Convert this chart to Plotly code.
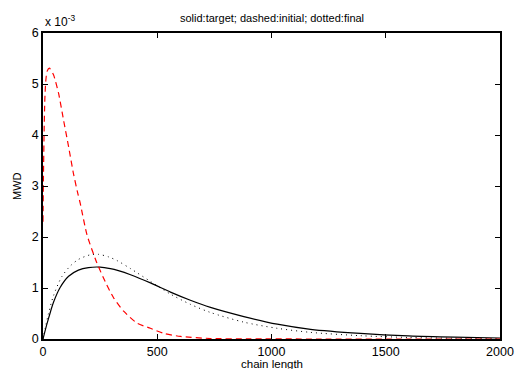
import plotly.graph_objects as go

# values in units of 1e-3
initial_x = [0, 2, 5, 8, 12, 18, 28, 46, 68, 90, 112, 133, 152, 163, 192, 235, 279, 310, 354, 412, 470, 529, 602, 733, 900, 1200, 1600, 2000]
initial_y = [2.3, 3.2, 4.1, 4.7, 5.05, 5.25, 5.31, 5.18, 4.82, 4.29, 3.77, 3.25, 2.86, 2.66, 2.05, 1.50, 1.06, 0.80, 0.54, 0.31, 0.21, 0.11, 0.05, 0.01, 0.003, 0, 0, 0]

target_x = [0, 12, 24, 46, 75, 112, 155, 199, 250, 295, 330, 383, 470, 558, 645, 733, 879, 1025, 1171, 1389, 1600, 1800, 2000]
target_y = [0, 0.21, 0.40, 0.72, 1.01, 1.23, 1.35, 1.40, 1.41, 1.38, 1.34, 1.26, 1.10, 0.92, 0.76, 0.62, 0.44, 0.29, 0.19, 0.11, 0.06, 0.035, 0.02]

final_x = [0, 10, 24, 46, 82, 119, 155, 206, 243, 287, 323, 383, 470, 558, 645, 733, 879, 1025, 1171, 1389, 1600, 1800, 2000]
final_y = [0, 0.22, 0.50, 0.85, 1.22, 1.43, 1.56, 1.65, 1.66, 1.61, 1.54, 1.38, 1.13, 0.88, 0.68, 0.52, 0.33, 0.21, 0.13, 0.065, 0.03, 0.015, 0.008]

x_ticks = [0, 500, 1000, 1500, 2000]
y_ticks = [0, 1, 2, 3, 4, 5, 6]

fig = go.Figure()
fig.add_trace(go.Scatter(x=target_x, y=target_y, mode="lines",
                         line=dict(color="black", width=1.2, shape="spline", smoothing=0.8)))
fig.add_trace(go.Scatter(x=final_x, y=final_y, mode="lines",
                         line=dict(color="black", width=1, dash="1px,4px", shape="spline", smoothing=0.8)))
fig.add_trace(go.Scatter(x=initial_x, y=initial_y, mode="lines",
                         line=dict(color="red", width=1.2, dash="6px,4px", shape="spline", smoothing=0.6)))

font = "Liberation Sans, Arial, Helvetica, sans-serif"
axis_common = dict(showgrid=False, zeroline=False, showline=True, linecolor="black",
                   linewidth=1.5, mirror="ticks", ticks="inside", ticklen=5, automargin=False,
                   tickcolor="black", tickfont=dict(family=font, size=12.5, color="black"))

fig.update_layout(
    width=515, height=369,
    margin=dict(l=43, r=15, t=33, b=30),
    paper_bgcolor="white", plot_bgcolor="white",
    showlegend=False,
    xaxis=dict(range=[0, 2000], tickvals=x_ticks, **axis_common),
    yaxis=dict(range=[0, 6], tickvals=y_ticks, **axis_common),
    annotations=[
        dict(text="solid:target; dashed:initial; dotted:final", x=0.5, y=1, xref="paper", yref="paper",
             xanchor="center", yanchor="bottom", yshift=7, showarrow=False,
             font=dict(family=font, size=11, color="black")),
        dict(text="x 10<sup>-3</sup>", x=0, y=1, xref="paper", yref="paper",
             xanchor="left", yanchor="bottom", yshift=2, showarrow=False,
             font=dict(family=font, size=12, color="black")),
        dict(text="chain length", x=0.5, y=0, xref="paper", yref="paper",
             xanchor="center", yanchor="top", yshift=-17, showarrow=False,
             font=dict(family=font, size=11.5, color="black")),
        dict(text="MWD", x=0, y=0.5, xref="paper", yref="paper", textangle=-90,
             xanchor="right", yanchor="middle", xshift=-18, showarrow=False,
             font=dict(family=font, size=11, color="black")),
    ],
)

fig.write_html("out.html")
